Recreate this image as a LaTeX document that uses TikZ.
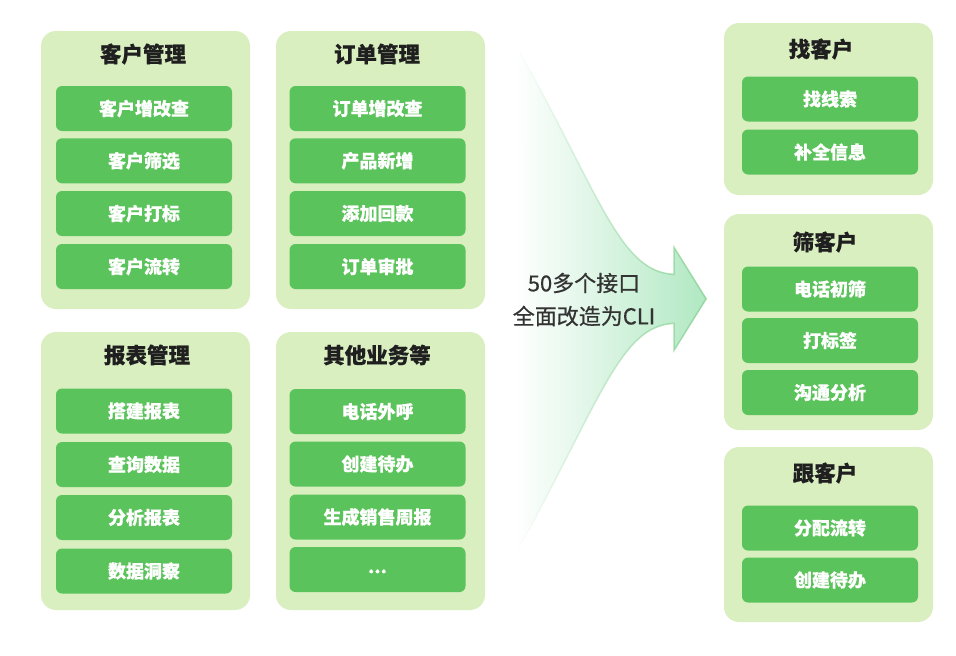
\documentclass[tikz,border=0pt]{standalone}
\usepackage{fontspec}
\newfontfamily\cjk[BoldFeatures={FakeBold=0.5}]{Noto Sans CJK SC}
\newfontfamily\cjkmed[FakeBold=0.5]{Noto Sans CJK SC}
\usetikzlibrary{fadings}
\definecolor{grpbg}{RGB}{217,239,192}
\definecolor{boxgreen}{RGB}{91,195,91}
\definecolor{titlecol}{RGB}{31,31,31}
\definecolor{arrowfill}{RGB}{176,232,194}
\definecolor{arrowline}{RGB}{150,215,160}
\definecolor{textgray}{RGB}{51,51,51}
\tikzfading[name=arrowfade, left color=transparent!100, middle color=transparent!45, right color=transparent!0]
\tikzset{
  grp/.style={fill=grpbg, rounded corners=15pt, inner sep=0pt, minimum width=209pt},
  grptitle/.style={font=\cjk\bfseries\fontsize{21.5}{21.5}\selectfont, text=titlecol, inner sep=0pt},
  item/.style={fill=boxgreen, rounded corners=6pt, inner sep=0pt, minimum height=45pt,
    font=\cjk\bfseries\fontsize{18}{18}\selectfont, text=white},
  litem/.style={item, minimum width=176pt},
  ritem/.style={item, minimum width=176pt},
  arrowtxt/.style={font=\cjkmed\fontsize{22}{22}\selectfont, text=textgray, inner sep=0pt}
}
\begin{document}
\begin{tikzpicture}[x=1pt, y=-1pt]
\useasboundingbox (0,0) rectangle (956,656);
% left groups
\node[grp, minimum height=278pt] (g1) at (145.5,170) {};
\node[grp, minimum height=278pt] (g2) at (380.5,170) {};
\node[grp, minimum height=278pt] (g3) at (145.5,471) {};
\node[grp, minimum height=278pt] (g4) at (380.5,471) {};
\node[grptitle] (t1) at (143,54) {客户管理};
\node[grptitle] (t2) at (377,54) {订单管理};
\node[grptitle] (t3) at (147,355) {报表管理};
\node[grptitle] (t4) at (377,355) {其他业务等};
% group 1
\node[litem] (a1) at (144,108.5) {客户增改查};
\node[litem] (a2) at (144,160.8) {客户筛选};
\node[litem] (a3) at (144,213.5) {客户打标};
\node[litem] (a4) at (144,266.5) {客户流转};
% group 2
\node[litem] (b1) at (377.5,108.5) {订单增改查};
\node[litem] (b2) at (377.5,160.8) {产品新增};
\node[litem] (b3) at (377.5,213.5) {添加回款};
\node[litem] (b4) at (377.5,266.5) {订单审批};
% group 3
\node[litem] (c1) at (144,411) {搭建报表};
\node[litem] (c2) at (144,464.5) {查询数据};
\node[litem] (c3) at (144,517.5) {分析报表};
\node[litem] (c4) at (144,571) {数据洞察};
% group 4
\node[litem] (d1) at (377.5,411.5) {电话外呼};
\node[litem] (d2) at (377.5,464) {创建待办};
\node[litem] (d3) at (377.5,517) {生成销售周报};
\node[litem] (d4) at (377.5,569.5) {\smash{\raisebox{-3.5pt}{...}}};
% arrow
\path[fill=arrowfill, draw=arrowline, line width=1.5pt, line join=miter, path fading=arrowfade]
  (520,52) .. controls (600,195) and (620,272) .. (674,274)
  -- (674,247) -- (706,298.5) -- (674,350) -- (674,323)
  .. controls (620,325) and (600,402) .. (516,553) -- cycle;
\node[arrowtxt] (m1) at (584,283) {50多个接口};
\node[arrowtxt] (m2) at (584,316) {全面改造为CLI};
% right groups
\node[grp, minimum height=172pt] (r1) at (828.5,109) {};
\node[grp, minimum height=216pt] (r2) at (828.5,322) {};
\node[grp, minimum height=175pt] (r3) at (828.5,534.5) {};
\node[grptitle] (rt1) at (821,49) {找客户};
\node[grptitle] (rt2) at (825,242) {筛客户};
\node[grptitle] (rt3) at (825,473) {跟客户};
\node[ritem] (e1) at (830,99) {找线索};
\node[ritem] (e2) at (830,152) {补全信息};
\node[ritem] (f1) at (830,289) {电话初筛};
\node[ritem] (f2) at (830,340.5) {打标签};
\node[ritem] (f3) at (830,392.5) {沟通分析};
\node[ritem] (h1) at (830,528) {分配流转};
\node[ritem] (h2) at (830,580) {创建待办};
\end{tikzpicture}
\end{document}
